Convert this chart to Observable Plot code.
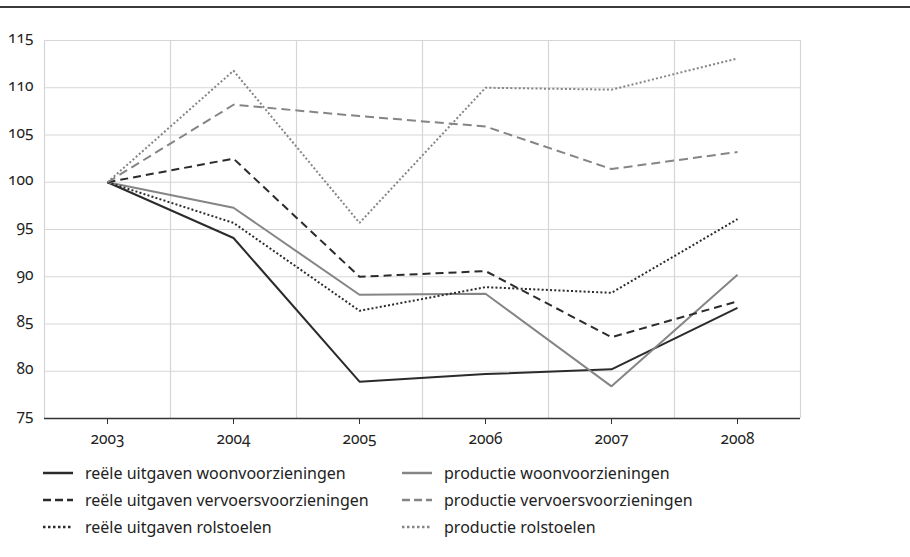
<!DOCTYPE html>
<html>
<head>
<meta charset="utf-8">
<script src="https://cdn.jsdelivr.net/npm/d3@7"></script>
<script src="https://cdn.jsdelivr.net/npm/@observablehq/plot@0.6"></script>
<style>
  body { margin: 0; background: #fff; font-family: "Noto Sans", "Open Sans", sans-serif; font-feature-settings: "onum" 1; }
  #top { height: 6px; border-bottom: 2px solid #3a3a3a; width: 910px; }
  #chart svg { display: block; }
  #legend { display: grid; grid-template-columns: 359px 400px; margin-left: 43px; margin-top: 10px; row-gap: 7px; }
  .item { display: flex; align-items: center; font-size: 16px; color: #222; height: 20px; }
  .item svg { margin-right: 12px; }
  svg text { font-family: "Noto Sans", "Open Sans", sans-serif; font-feature-settings: "onum" 1; }
</style>
</head>
<body>
<div id="top"></div>
<div id="chart"></div>
<div id="legend"></div>
<script>
const years = [2003, 2004, 2005, 2006, 2007, 2008];
const yTicks = [75, 80, 85, 90, 95, 100, 105, 110, 115];
const seriesNames = [
  "reële uitgaven woonvoorzieningen",
  "productie woonvoorzieningen",
  "reële uitgaven vervoersvoorzieningen",
  "productie vervoersvoorzieningen",
  "reële uitgaven rolstoelen",
  "productie rolstoelen"
];
const reeleWoon     = [100, 94.1, 78.9, 79.7, 80.2, 86.7];
const productieWoon = [100, 97.3, 88.1, 88.2, 78.4, 90.2];
const reeleVervoer  = [100, 102.5, 90.0, 90.6, 83.6, 87.4];
const productieVervoer = [100, 108.2, 107.0, 105.9, 101.4, 103.2];
const reeleRol      = [100, 95.7, 86.4, 88.9, 88.3, 96.1];
const productieRol  = [100, 111.8, 95.7, 110.0, 109.8, 113.1];

const values = [reeleWoon, productieWoon, reeleVervoer, productieVervoer, reeleRol, productieRol];
const styles = [
  {stroke: "#2b2b2b", dash: null, lg: null},
  {stroke: "#858585", dash: null, lg: null},
  {stroke: "#2b2b2b", dash: "8,5", lg: "8,4"},
  {stroke: "#858585", dash: "9,5", lg: "8,4"},
  {stroke: "#2b2b2b", dash: "2,2.2", lg: "2.5,2.5"},
  {stroke: "#858585", dash: "2,2.2", lg: "2.5,2.5"}
];

const edges = years.map(y => y - 0.5).concat([years[years.length - 1] + 0.5]);

const marks = [
  Plot.gridY(yTicks, {stroke: "#d6d6d6", strokeOpacity: 1, strokeWidth: 1}),
  Plot.ruleX(edges, {stroke: "#d6d6d6", strokeWidth: 1.2}),
  Plot.axisY(yTicks, {tickSize: 0, tickPadding: 11, fontSize: 15.5, fill: "#222", dy: -2, label: null, tickFormat: d => String(d)}),
  Plot.axisX(years, {tickSize: 6, tickPadding: 8, fontSize: 15.5, fill: "#222", stroke: "#333", label: null, tickFormat: d => String(d)}),
  Plot.ruleY([75], {stroke: "#333", strokeWidth: 1.6})
];
values.forEach((vals, i) => {
  const data = years.map((y, j) => ({year: y, value: vals[j]}));
  marks.push(Plot.line(data, {x: "year", y: "value", stroke: styles[i].stroke, strokeWidth: 2, strokeDasharray: styles[i].dash, strokeLinejoin: "miter", strokeLinecap: "butt"}));
});

const chart = Plot.plot({
  width: 910,
  height: 445,
  marginLeft: 44,
  marginRight: 110,
  marginTop: 32,
  marginBottom: 35,
  x: {domain: [2002.5, 2008.5], axis: null},
  y: {domain: [75, 115], axis: null},
  marks
});
document.getElementById("chart").appendChild(chart);

const legend = document.getElementById("legend");
[0, 1, 2, 3, 4, 5].forEach(i => {
  const div = document.createElement("div");
  div.className = "item";
  const s = styles[i];
  div.innerHTML = `<svg width="30" height="10"><line x1="0" x2="30" y1="5" y2="5" stroke="${s.stroke}" stroke-width="2.5" ${s.lg ? `stroke-dasharray="${s.lg}"` : ""}/></svg><span>${seriesNames[i]}</span>`;
  legend.appendChild(div);
});
</script>
</body>
</html>
